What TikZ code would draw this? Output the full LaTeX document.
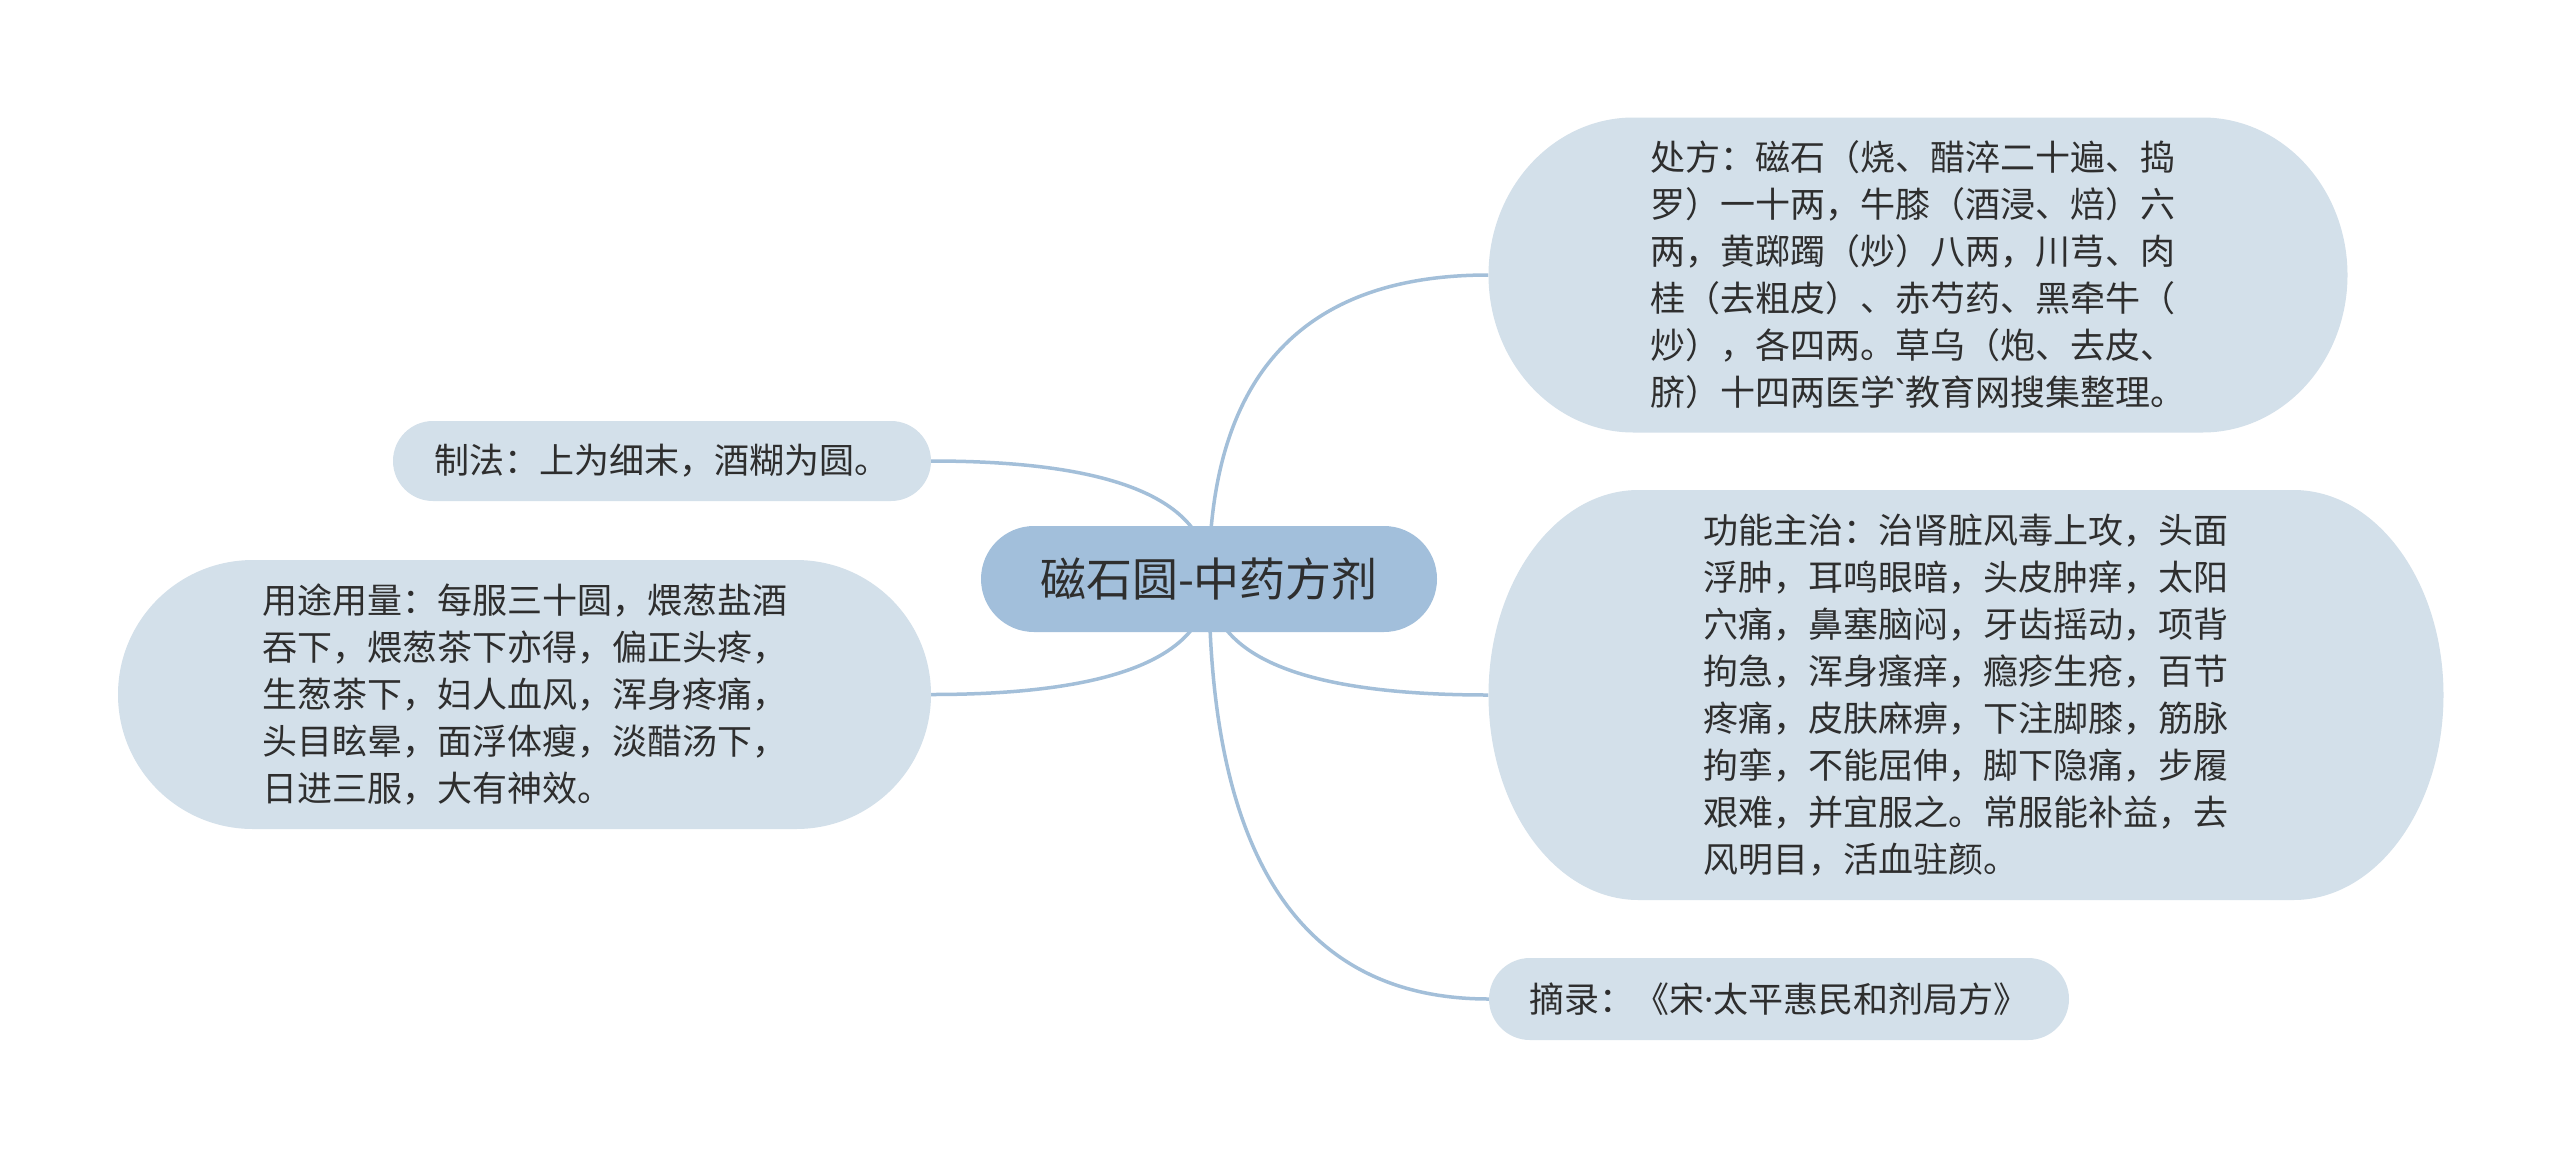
\documentclass[tikz,border=0pt]{standalone}
\usepackage{fontspec}
\setmainfont{Noto Sans CJK SC}[Ligatures=TeXOff]
\newfontfamily\latinfont{Noto Sans}
\usetikzlibrary{calc,backgrounds}
\definecolor{rootfill}{HTML}{A2BFDB}
\definecolor{subfill}{HTML}{D3E0EA}
\definecolor{linecol}{HTML}{A3BFD9}
\definecolor{txtcol}{HTML}{2E2E2E}
% stadium with elliptical ends: fill, cx, cy, half width, half height, rx
\newcommand\stad[6]{%
  \fill[#1] ({#2-#4+#6},{#3-#5}) -- ({#2+#4-#6},{#3-#5})
    arc[start angle=90,end angle=-90,x radius=#6pt,y radius=#5pt]
    -- ({#2-#4+#6},{#3+#5})
    arc[start angle=270,end angle=90,x radius=#6pt,y radius=#5pt] -- cycle;}
\begin{document}
\begin{tikzpicture}[x=1pt,y=-1pt,
  txt/.style={text=txtcol, inner sep=0pt, align=left, font=\fontsize{35}{47}\selectfont},
  conn/.style={draw=linecol, line width=3.5pt}]
\useasboundingbox (0,0) rectangle (2560,1157);
\node[txt, align=center, minimum width=456pt, minimum height=106pt,
      font=\fontsize{46}{56}\selectfont] (root) at (1209,579) {磁石圆-中药方剂};
\node[txt, minimum width=859pt, minimum height=315pt] (chufang) at (1918,275)
 {处方：磁石（烧、醋淬二十遍、捣\\罗）一十两，牛膝（酒浸、焙）六\\两，黄踯躅（炒）八两，川芎、肉\\桂（去粗皮）、赤芍药、黑牵牛（\\炒），各四两。草乌（炮、去皮、\\脐）十四两医学{\latinfont `}教育网搜集整理。};
\node[txt, minimum width=955pt, minimum height=410pt] (gongneng) at (1966,695)
 {功能主治：治肾脏风毒上攻，头面\\浮肿，耳鸣眼暗，头皮肿痒，太阳\\穴痛，鼻塞脑闷，牙齿摇动，项背\\拘急，浑身瘙痒，瘾疹生疮，百节\\疼痛，皮肤麻痹，下注脚膝，筋脉\\拘挛，不能屈伸，脚下隐痛，步履\\艰难，并宜服之。常服能补益，去\\风明目，活血驻颜。};
\node[txt, minimum width=580pt, minimum height=82pt] (zhailu) at (1779,999)
 {摘录：《宋{\latinfont ·}太平惠民和剂局方》};
\node[txt, minimum width=538pt, minimum height=80pt] (zhifa) at (662,461)
 {制法：上为细末，酒糊为圆。};
\node[txt, minimum width=813pt, minimum height=269pt] (yongtu) at (524.5,694.5)
 {用途用量：每服三十圆，煨葱盐酒\\吞下，煨葱茶下亦得，偏正头疼，\\生葱茶下，妇人血风，浑身疼痛，\\头目眩晕，面浮体瘦，淡醋汤下，\\日进三服，大有神效。};
\begin{pgfonlayer}{background}
\fill[white] (0,0) rectangle (2560,1157);
\foreach \t/\a in {chufang/west, gongneng/west, zhailu/west, zhifa/east, yongtu/east}{
  \draw[conn] (root.center) .. controls ($(root.center)!0.667!(root.center |- \t.\a)$)
     and ($(\t.\a)!0.667!(root.center |- \t.\a)$) .. (\t.\a);
}
\stad{subfill}{1918}{275}{429.5}{157.5}{145}
\stad{subfill}{1966}{695}{477.5}{205}{150}
\stad{subfill}{1779}{999}{290}{41}{41}
\stad{subfill}{662}{461}{269}{40}{40}
\stad{subfill}{524.5}{694.5}{406.5}{134.5}{135}
\stad{rootfill}{1209}{579}{228}{53}{53}
\end{pgfonlayer}
\end{tikzpicture}
\end{document}
